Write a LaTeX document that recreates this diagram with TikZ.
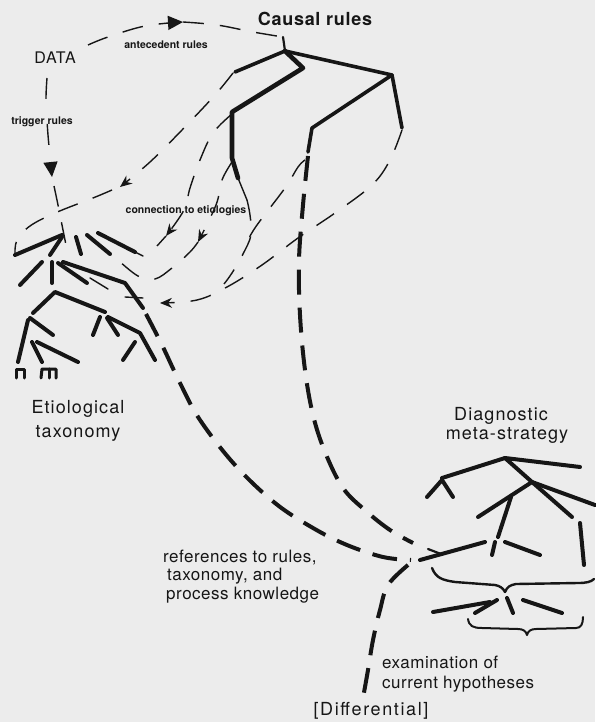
\documentclass[tikz,border=0pt]{standalone}
\usepackage{fontspec}
\setmainfont{TeX Gyre Heros}
\usetikzlibrary{arrows.meta}
\definecolor{bg}{RGB}{236,236,236}
\definecolor{ink}{RGB}{22,22,22}
\begin{document}
\begin{tikzpicture}[x=1pt,y=-1pt,
  lbl/.style={inner sep=0pt, text=ink},
  big/.style={lbl, font=\fontsize{18}{20}\selectfont\addfontfeature{LetterSpace=6}},
  bigbold/.style={lbl, font=\fontsize{18}{20}\selectfont\bfseries\addfontfeature{LetterSpace=4}},
  mid/.style={lbl, font=\fontsize{17}{19}\selectfont\addfontfeature{LetterSpace=3}},
  tiny/.style={lbl, font=\fontsize{10.5}{12}\selectfont\bfseries},
  tree/.style={draw=ink, line width=4pt, line cap=round, line join=round},
  twig/.style={draw=ink, line width=1.4pt, line cap=round},
  fine/.style={draw=ink, line width=1.4pt, dash pattern=on 21pt off 16pt},
  heavy/.style={draw=ink, line width=4pt, dash pattern=on 25pt off 13pt},
  brace/.style={draw=ink, line width=2.4pt, line cap=round, line join=round},
  tipA/.style={-{Stealth[length=12pt,width=10pt]}},
  tipB/.style={-{Triangle[length=15pt,width=14pt]}}
]
\fill[bg] (0,0) rectangle (595,722);
\useasboundingbox (0,0) rectangle (595,722);

% ---------- labels ----------
\node[bigbold, anchor=base] (causal) at (315,26) {Causal rules};
\node[lbl, font=\fontsize{16}{18}\selectfont\addfontfeature{LetterSpace=5}, anchor=base] (data) at (55,64) {DATA};
\node[tiny, anchor=base] (ante) at (166,49) {antecedent rules};
\node[tiny, anchor=base] (trig) at (42,125) {trigger rules};
\node[tiny, anchor=base] (conn) at (186,213) {connection to etiologies};
\node[big, anchor=base] (etio1) at (78,413) {Etiological};
\node[big, anchor=base] (etio2) at (78,437) {taxonomy};
\node[big, anchor=base] (diag1) at (501,420) {Diagnostic};
\node[big, anchor=base] (diag2) at (507,439) {meta-strategy};
\node[mid, anchor=base west] (ref1) at (163,562) {references to rules,};
\node[mid, anchor=base west] (ref2) at (167,580) {taxonomy, and};
\node[mid, anchor=base west] (ref3) at (166,599) {process knowledge};
\node[mid, anchor=base west] (exa1) at (382,668) {examination of};
\node[mid, anchor=base west] (exa2) at (382,688) {current hypotheses};
\node[lbl, font=\fontsize{18}{20}\selectfont\addfontfeature{LetterSpace=9}, anchor=base] (diff) at (371,715) {[Differential]};

% ---------- key points ----------
\coordinate (croot) at (285,51);
\coordinate (junc) at (411,560);

% ---------- causal rules tree ----------
\draw[twig, line width=2.2pt] (283,37) -- (croot);
\draw[tree, line width=3.6pt] (235,72) -- (croot) -- (392,75);
\draw[tree, line width=4.6pt] (croot) -- (303,68) -- (232,112) -- (232,158) -- (238,178);
\draw[twig] (238,178) -- (247,200);
\draw[tree, line width=3.6pt] (392,75) -- (402,128);
\draw[tree, line width=3.6pt] (392,75) -- (312,128) -- (308,152);

% ---------- DATA -> causal rules ----------
\draw[fine, tipB] plot[smooth, tension=0.6] coordinates {(88,45) (108,37) (145,26) (183,22)};
\draw[fine] plot[smooth, tension=0.6] coordinates {(183,22) (217,25) (253,32) (283,37)};

% ---------- trigger rules ----------
\draw[fine, tipB, dash pattern=on 21pt off 25pt] plot[smooth, tension=0.5] coordinates {(47,78) (46,100) (48,135) (52,177)};
\draw[fine] plot[smooth, tension=0.5] coordinates {(54,186) (58,205) (66,245)};

% ---------- connections to etiologies ----------
\draw[fine, tipA] plot[smooth, tension=0.6] coordinates {(233,73) (215,95) (182,130) (150,162) (120,187)};
\draw[fine] plot[smooth, tension=0.6] coordinates {(112,190) (93,198) (55,213) (30,226) (17,240) (15,254)};
\draw[fine, tipA] plot[smooth, tension=0.6] coordinates {(232,114) (213,133) (200,160) (190,188) (184,210) (166,236)};
\draw[fine] plot[smooth, tension=0.6] coordinates {(166,236) (157,246)};
\draw[fine, tipA] plot[smooth, tension=0.6] coordinates {(232,162) (222,180) (216,205) (198,242)};
\draw[fine] plot[smooth, tension=0.6] coordinates {(198,242) (190,252) (172,268) (155,279) (138,276) (118,260)};
\draw[fine] plot[smooth, tension=0.6] coordinates {(247,200) (250,215) (251,235) (243,254) (232,273) (224,284)};
\draw[fine] plot[smooth, tension=0.6] coordinates {(305,160) (298,167) (285,188) (257,225) (248,240)};
\draw[fine, tipA] plot[smooth, tension=0.6] coordinates {(402,130) (390,160) (372,185) (335,213) (298,238) (262,265) (227,287) (197,300) (160,303)};
\draw[twig] (143,298) -- (125,297);

% ---------- etiological taxonomy ----------
\draw[tree] (15,255) -- (62,235);
\draw[tree] (50,255) -- (62,237);
\draw[tree] (76,237) -- (81,254);
\draw[tree] (87,235) -- (110,254);
\draw[tree] (98,233) -- (135,252);
\draw[twig] (135,252) -- (143,256);
\draw[tree] (20,285) -- (42,262);
\draw[tree] (52,262) -- (52,283);
\draw[tree] (58,263) -- (87,283);
\draw[tree] (63,262) -- (125,283) -- (143,308);
\draw[twig] (90,278) -- (108,289);
\draw[tree] (33,313) -- (55,292) -- (105,312);
\draw[tree] (30,318) -- (53,335);
\draw[tree] (28,320) -- (18,362);
\draw[tree] (32,342) -- (42,362);
\draw[tree] (37,342) -- (78,362);
\draw[tree, line width=3pt] (16,378) -- (16,369) -- (24,369) -- (24,378);
\draw[tree, line width=3pt] (41,378) -- (42,369) -- (56,369) -- (56,378);
\draw[tree, line width=3pt] (49,369) -- (49,378);
\draw[tree] (100,317) -- (93,335);
\draw[tree] (107,318) -- (118,335);
\draw[tree] (108,317) -- (140,333) -- (155,360);
\draw[tree] (135,342) -- (123,360);

% ---------- heavy dashed references ----------
\draw[heavy] plot[smooth, tension=0.6] coordinates {(146,314) (162,345) (180,383) (200,420) (235,465) (275,503) (313,528) (347,545) (383,557) (junc)};
\draw[heavy] plot[smooth, tension=0.6] coordinates {(308,156) (303,205) (299,260) (300,315) (305,370) (313,415) (325,452) (343,488) (366,511) (390,530) (413,543)};
\draw[heavy] plot[smooth, tension=0.6] coordinates {(408,565) (388,585) (380,610) (373,640) (368,670) (363,698)};

% ---------- diagnostic meta-strategy tree ----------
\draw[tree] (442,478) -- (505,458) -- (580,467);
\draw[tree] (505,458) -- (532,482) -- (595,505);
\draw[tree] (532,482) -- (478,517);
\draw[tree] (532,482) -- (572,517);
\draw[tree] (511,497) -- (498,537);
\draw[tree] (427,497) -- (442,480) -- (453,497);
\draw[tree] (580,523) -- (584,565);
\draw[tree] (495,542) -- (492,555);
\draw[tree] (505,542) -- (540,555);
\draw[tree] (420,560) -- (485,542);
\draw[twig, line width=2.2pt] (428,549) -- (441,554);
\draw[brace] (432,568) .. controls (436,578) and (442,580) .. (455,582)
  -- (495,585) .. controls (500,586) and (503,588) .. (505,592)
  .. controls (507,587) and (510,585) .. (516,584) -- (578,583)
  .. controls (586,583) and (591,582) .. (594,579);
\draw[tree] (433,612) -- (490,602);
\draw[tree] (475,613) -- (497,600);
\draw[tree] (507,598) -- (513,613);
\draw[tree] (523,600) -- (562,613);
\draw[brace, line width=2pt] (468,619) .. controls (469,626) and (473,628) .. (482,628)
  -- (518,629) .. controls (523,629) and (526,631) .. (527,635)
  .. controls (528,631) and (531,629) .. (536,629) -- (576,628)
  .. controls (581,628) and (583,624) .. (583,617);
\end{tikzpicture}
\end{document}
